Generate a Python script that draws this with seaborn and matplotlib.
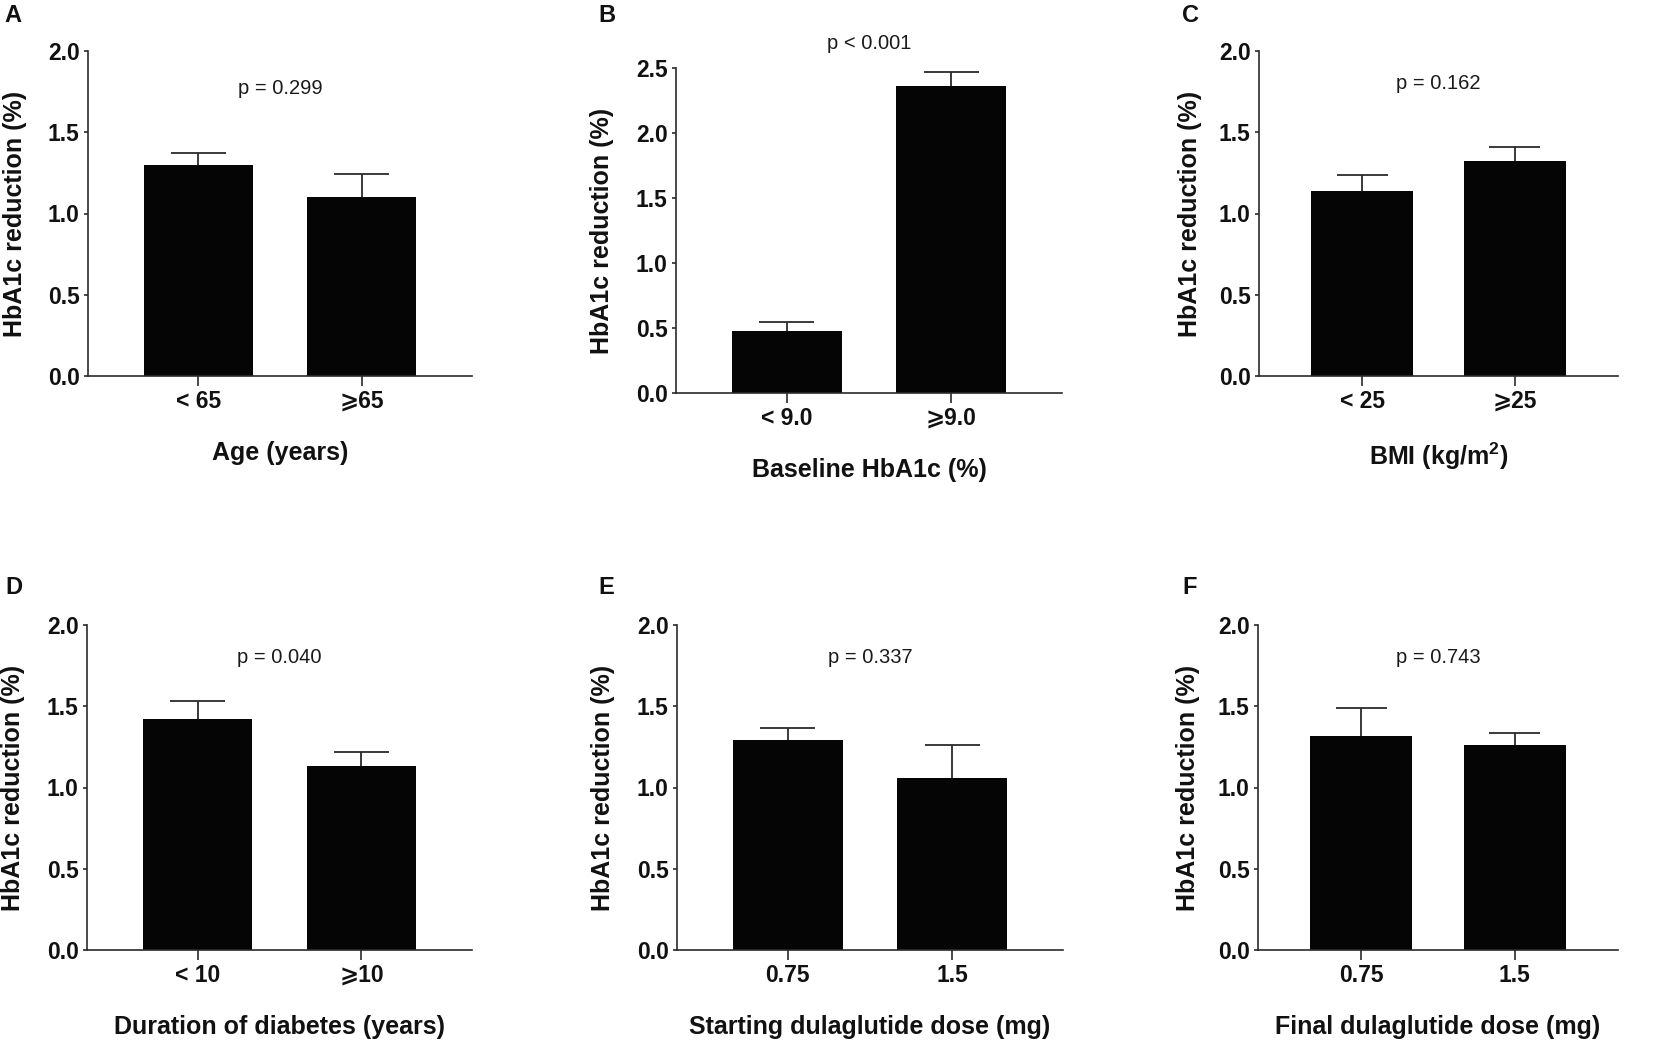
"""
HbA1c reduction by subgroup: six bar panels (A-F)
"""

import matplotlib
matplotlib.use("Agg")
import matplotlib.pyplot as plt
import numpy as np
import pandas as pd
import seaborn as sns

# Panel data (mean and upper SEM)
age_groups = ["< 65", "⩾65"]
age_mean = [1.30, 1.10]
age_sem = [0.075, 0.146]

baseline_groups = ["< 9.0", "⩾9.0"]
baseline_mean = [0.48, 2.36]
baseline_sem = [0.065, 0.11]

bmi_groups = ["< 25", "⩾25"]
bmi_mean = [1.14, 1.325]
bmi_sem = [0.10, 0.085]

duration_groups = ["< 10", "⩾10"]
duration_mean = [1.42, 1.135]
duration_sem = [0.11, 0.083]

start_dose_groups = ["0.75", "1.5"]
start_dose_mean = [1.29, 1.057]
start_dose_sem = [0.074, 0.207]

final_dose_groups = ["0.75", "1.5"]
final_dose_mean = [1.32, 1.26]
final_dose_sem = [0.17, 0.075]

p_labels = ["p = 0.299", "p < 0.001", "p = 0.162", "p = 0.040", "p = 0.337", "p = 0.743"]
x_titles = [
    "Age (years)",
    "Baseline HbA1c (%)",
    "BMI (kg/m$^2$)",
    "Duration of diabetes (years)",
    "Starting dulaglutide dose (mg)",
    "Final dulaglutide dose (mg)",
]
panel_letters = ["A", "B", "C", "D", "E", "F"]

sns.set_theme(style="ticks")
plt.rcParams["font.family"] = ["Liberation Sans", "DejaVu Sans"]
plt.rcParams["mathtext.default"] = "regular"

W, H = 1657, 1041
fig = plt.figure(figsize=(W / 100, H / 100), dpi=100)

# axes boxes in pixels: left, top, right, bottom
boxes = [
    (88, 51, 472, 376),
    (676, 68, 1062, 393),
    (1259, 51, 1618, 376),
    (87, 625, 472, 950),
    (677, 625, 1063, 950),
    (1258, 625, 1618, 950),
]
letter_pos = [(4, 15), (598, 15), (1182, 15), (5, 587), (598, 587), (1182, 587)]

panels = [
    (age_groups, age_mean, age_sem, 2.0, 1.77),
    (baseline_groups, baseline_mean, baseline_sem, 2.5, 2.69),
    (bmi_groups, bmi_mean, bmi_sem, 2.0, 1.80),
    (duration_groups, duration_mean, duration_sem, 2.0, 1.80),
    (start_dose_groups, start_dose_mean, start_dose_sem, 2.0, 1.80),
    (final_dose_groups, final_dose_mean, final_dose_sem, 2.0, 1.80),
]

bar_color = "#050505"
line_color = "#2b2b2b"
bar_width = 0.667

for i, (groups, means, sems, ymax, p_y) in enumerate(panels):
    l, t, r, b = boxes[i]
    ax = fig.add_axes([l / W, 1 - b / H, (r - l) / W, (b - t) / H])

    df = pd.DataFrame({"group": groups, "value": means})
    sns.barplot(data=df, x="group", y="value", color=bar_color, saturation=1,
                width=bar_width, errorbar=None, linewidth=0, ax=ax)

    # upper-only SEM whiskers with a cap half as wide as the bar
    x = np.arange(len(groups))
    tops = np.array(means) + np.array(sems)
    ax.vlines(x, means, tops, color=line_color, linewidth=1.3, zorder=3)
    ax.hlines(tops, x - bar_width / 4, x + bar_width / 4, color=line_color,
              linewidth=1.3, zorder=3)

    ax.set_xlim(-0.675, 1.675)
    ax.set_ylim(0, ymax)
    yt = np.arange(0, ymax + 0.01, 0.5)
    ax.set_yticks(yt)
    ax.set_yticklabels([f"{v:.1f}" for v in yt])

    sns.despine(ax=ax)
    for side in ["left", "bottom"]:
        ax.spines[side].set_color(line_color)
        ax.spines[side].set_linewidth(1.2)

    ax.tick_params(axis="y", length=3, width=1.2, color=line_color, pad=3,
                   labelsize=16.5, labelcolor="#111111")
    ax.tick_params(axis="x", length=7, width=1.2, color=line_color, pad=3,
                   labelsize=16.5, labelcolor="#111111")
    for lab in ax.get_xticklabels() + ax.get_yticklabels():
        lab.set_fontweight("bold")

    ax.set_xlabel(x_titles[i], fontsize=18, fontweight="bold", color="#111111", va="top")
    ax.xaxis.set_label_coords(0.5, -0.2)
    ax.set_ylabel("HbA1c reduction (%)", fontsize=18, fontweight="bold", color="#111111")
    ax.yaxis.set_label_coords(-0.16, 0.5)

    ax.text(0.5, p_y, p_labels[i], ha="center", va="center", fontsize=14.5,
            color="#1a1a1a", clip_on=False)

    lx, ly = letter_pos[i]
    fig.text(lx / W, 1 - ly / H, panel_letters[i], ha="left", va="center",
             fontsize=17, fontweight="bold", color="#111111")

fig.savefig("out.png", dpi=100)
